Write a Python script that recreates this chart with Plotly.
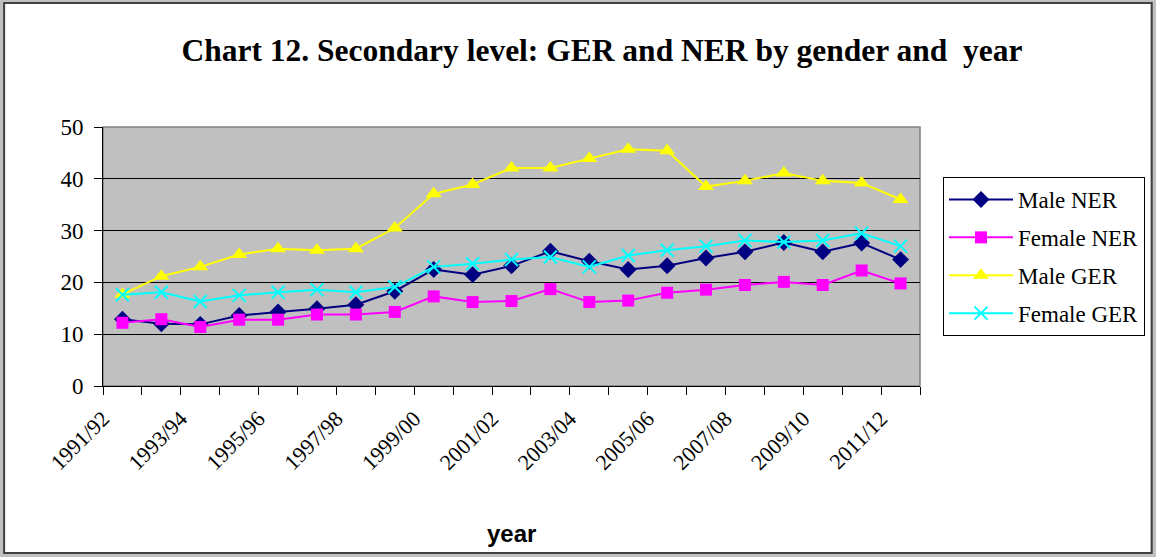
import plotly.graph_objects as go

years = ["1991/92", "1992/93", "1993/94", "1994/95", "1995/96", "1996/97", "1997/98",
         "1998/99", "1999/00", "2000/01", "2001/02", "2002/03", "2003/04", "2004/05",
         "2005/06", "2006/07", "2007/08", "2008/09", "2009/10", "2010/11", "2011/12"]

male_ner = [12.9, 12.0, 11.9, 13.6, 14.3, 14.9, 15.7, 18.3, 22.5, 21.5, 23.2,
            26.0, 24.1, 22.5, 23.2, 24.7, 25.9, 27.7, 25.9, 27.6, 24.4]
female_ner = [12.2, 12.9, 11.4, 12.8, 12.8, 13.8, 13.8, 14.3, 17.3, 16.2, 16.4,
              18.7, 16.2, 16.5, 18.0, 18.6, 19.5, 20.1, 19.5, 22.3, 19.8]
male_ger = [17.7, 21.2, 23.0, 25.4, 26.5, 26.2, 26.5, 30.5, 37.1, 38.9, 42.1,
            42.1, 43.9, 45.7, 45.4, 38.5, 39.6, 41.1, 39.6, 39.2, 36.0]
female_ger = [17.6, 18.1, 16.3, 17.5, 18.1, 18.6, 18.1, 19.1, 23.0, 23.6, 24.4,
              24.9, 23.0, 25.2, 26.2, 27.0, 28.1, 27.8, 28.1, 29.5, 27.0]

y_ticks = [0, 10, 20, 30, 40, 50]

idx = list(range(len(years)))
label_idx = idx[::2]
label_text = [years[i] for i in label_idx]
# rotated labels sit half a category to the left of their point, as in the reference
label_pos = [i - 0.5 for i in label_idx]

SERIF = "Liberation Serif, Times New Roman, serif"
SANS = "Liberation Sans, Arial, sans-serif"

fig = go.Figure()
fig.add_trace(go.Scatter(x=idx, y=male_ner, name="Male NER", mode="lines+markers",
                         line=dict(color="#000080", width=2),
                         marker=dict(symbol="diamond", size=13, color="#000080"),
                         legendgroup="a"))
fig.add_trace(go.Scatter(x=idx, y=female_ner, name="Female NER", mode="lines+markers",
                         line=dict(color="#FF00FF", width=2),
                         marker=dict(symbol="square", size=12, color="#FF00FF"),
                         legendgroup="b"))
fig.add_trace(go.Scatter(x=idx, y=male_ger, name="Male GER", mode="lines+markers",
                         line=dict(color="#FFFF00", width=2),
                         marker=dict(symbol="triangle-up", size=14, color="#FFFF00"),
                         legendgroup="c"))
fig.add_trace(go.Scatter(x=idx, y=female_ger, name="Female GER", mode="lines+markers",
                         line=dict(color="#00FFFF", width=2),
                         marker=dict(symbol="x-thin", size=13, color="#00FFFF",
                                     line=dict(color="#00FFFF", width=2)),
                         legendgroup="d"))

W, H = 1156, 557
L, R, T, B = 103, 235, 127, 171
pw, ph = W - L - R, H - T - B

def px(x):
    return (x - L) / pw

def py(y):
    return (H - B - y) / ph

fig.update_layout(
    width=W, height=H,
    margin=dict(l=L, r=R, t=T, b=B),
    paper_bgcolor="white",
    plot_bgcolor="#C0C0C0",
    showlegend=True,
    title=dict(text="<b>Chart 12. Secondary level: GER and NER by gender and  year</b>",
               font=dict(family=SERIF, size=31.5, color="black"),
               x=602 / W, xanchor="center", xref="container",
               y=1 - 50 / H, yanchor="middle", yref="container"),
    xaxis=dict(range=[-0.5, len(years) - 0.5], tickmode="array",
               tickvals=label_pos, ticktext=label_text, tickangle=-45,
               ticks="", showgrid=False, zeroline=False,
               showline=True, linecolor="black", linewidth=1,
               ticklabelstandoff=10,
               tickfont=dict(family=SERIF, size=22, color="black"),
               minor=dict(ticks="outside", ticklen=8, tickcolor="black",
                          tick0=-0.5, dtick=1, showgrid=False)),
    yaxis=dict(range=[0, 50], tickvals=y_ticks, ticks="outside", ticklen=8,
               tickcolor="black", showgrid=True, gridcolor="black", gridwidth=1,
               zeroline=False, showline=True, linecolor="black", linewidth=1,
               ticklabelstandoff=6,
               tickfont=dict(family=SERIF, size=23, color="black")),
    legend=dict(x=px(943), y=py(177), xanchor="left", yanchor="top",
                bgcolor="white", bordercolor="black", borderwidth=1,
                font=dict(family=SERIF, size=23, color="black"),
                itemwidth=64, tracegroupgap=5),
    annotations=[dict(text="<b>year</b>", x=0.5, y=py(533), xref="paper", yref="paper",
                      xanchor="center", yanchor="middle", showarrow=False,
                      font=dict(family=SANS, size=24, color="black"))],
    shapes=[
        dict(type="rect", xref="paper", yref="paper", x0=0, x1=1, y0=0, y1=1,
             line=dict(color="#808080", width=1.5), layer="below"),
        dict(type="rect", xref="paper", yref="paper", x0=px(0), x1=px(W), y0=py(H), y1=py(0),
             line=dict(color="#C0C0C0", width=8), layer="above"),
        dict(type="rect", xref="paper", yref="paper", x0=px(4), x1=px(1153), y0=py(553), y1=py(3),
             line=dict(color="#404040", width=2), layer="above"),
    ],
)

fig.write_html("out.html", config={"displayModeBar": False},
               post_script="document.body.style.margin='0';document.body.style.overflow='hidden';")
